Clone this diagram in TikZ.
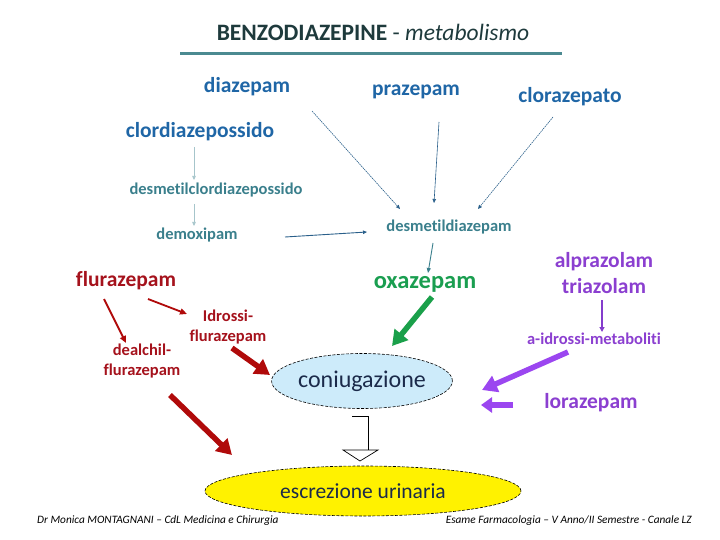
\documentclass[tikz,border=0pt]{standalone}
\usepackage{fontspec}
\setmainfont{Carlito}[Ligatures=NoCommon]
\usetikzlibrary{arrows.meta,shapes.geometric}
\definecolor{blueT}{HTML}{1F66A6}
\definecolor{tealT}{HTML}{3A7F8C}
\definecolor{thinB}{HTML}{2A5F8A}
\definecolor{redT}{HTML}{A5121C}
\definecolor{redA}{HTML}{B00A0A}
\definecolor{greenT}{HTML}{1A9E50}
\definecolor{greenA}{HTML}{1AA04A}
\definecolor{purpT}{HTML}{8B3FD0}
\definecolor{purpA}{HTML}{9B46F0}
\definecolor{conFill}{HTML}{CDEBFA}
\definecolor{conText}{HTML}{1B2A4A}
\definecolor{titleC}{HTML}{1E3A3C}
\definecolor{lineC}{HTML}{4B8A91}
\begin{document}
\begin{tikzpicture}[x=1pt,y=-1pt,
  big/.style={font=\bfseries\fontsize{21.5}{23}\selectfont, inner sep=0pt, align=center},
  mid/.style={font=\bfseries\fontsize{16.5}{20}\selectfont, inner sep=0pt, align=center},
  bluelbl/.style={big, text=blueT},
  teallbl/.style={mid, text=tealT},
  redbig/.style={big, text=redT},
  redmid/.style={mid, text=redT},
  purpbig/.style={big, text=purpT, font=\bfseries\fontsize{21.5}{26}\selectfont},
  purpmid/.style={mid, text=purpT},
  thinarrow/.style={draw=thinB, line width=0.6pt, -{Triangle[length=4pt,width=3.5pt]}},
  dotarrow/.style={thinarrow, dash pattern=on 1.5pt off 0.8pt},
  fadearrow/.style={draw=tealT!45, line width=0.6pt, -{Triangle[length=4pt,width=3.5pt]}},
  redthin/.style={draw=redA, line width=1.8pt, -{Triangle[length=7pt,width=6pt]}},
  purpthin/.style={draw=purpA!85!black, line width=1.2pt, -{Triangle[length=5pt,width=5pt]}},
  thick/.style={line width=5.5pt, -{Triangle[length=15pt,width=17pt]}},
  blob/.style={ellipse, draw=black, line width=0.6pt, dash pattern=on 3pt off 1.5pt, inner sep=0pt, text=conText},
  foot/.style={font=\itshape\fontsize{11.3}{13}\selectfont, inner sep=0pt}
]
\useasboundingbox (0,0) rectangle (720,540);
% title
\node[font=\fontsize{23.5}{26}\selectfont, text=titleC, inner sep=0pt] (title) at (373,32)
  {\textbf{BENZODIAZEPINE} - \textit{metabolismo}};
\draw[lineC, line width=3pt] (180,54) -- (562,54);
% nodes
\node[bluelbl] (diaz) at (247,87) {diazepam};
\node[bluelbl] (praz) at (416,92) {prazepam};
\node[bluelbl] (cloz) at (570,97) {clorazepato};
\node[bluelbl] (clordi) at (200,132) {clordiazepossido};
\node[teallbl] (desmcl) at (216,190) {desmetilclordiazepossido};
\node[teallbl] (demox) at (197,235) {demoxipam};
\node[teallbl] (desmd) at (449,227) {desmetildiazepam};
\node[redbig] (fluraz) at (126,281) {flurazepam};
\node[redmid] (idross) at (228,327) {Idrossi-\\flurazepam};
\node[redmid] (dealch) at (142,361) {dealchil-\\flurazepam};
\node[big, text=greenT, font=\bfseries\fontsize{24.5}{26}\selectfont] (oxaz) at (425,284) {oxazepam};
\node[purpbig] (alpr) at (604,273) {alprazolam\\triazolam};
\node[purpmid] (aidr) at (594,339) {a-idrossi-metaboliti};
\node[purpbig] (loraz) at (591,403) {lorazepam};
\node[blob, fill=conFill, minimum width=172pt, minimum height=55pt,
      font=\fontsize{24}{26}\selectfont] (con) at (362,381) {coniugazione};
\node[blob, fill=yellow, minimum width=316pt, minimum height=50pt,
      font=\fontsize{21.5}{24}\selectfont] (escr) at (363,491) {escrezione urinaria};
% footer
\node[foot, anchor=west] (foot1) at (37,521)
  {Dr Monica MONTAGNANI – CdL Medicina e Chirurgia};
\node[foot, anchor=east] (foot2) at (692,521)
  {Esame Farmacologia – V Anno/II Semestre - Canale LZ};
% thin connectors
\draw[dotarrow] ([shift={(65,24)}]diaz.center) -- ([shift={(-49,-18)}]desmd.center);
\draw[thinarrow] ([shift={(23,30)}]praz.center) -- ([shift={(-15,-24)}]desmd.center);
\draw[dotarrow] ([shift={(-17,20)}]cloz.center) -- ([shift={(29,-18)}]desmd.center);
\draw[fadearrow] ([shift={(-6,15)}]clordi.center) -- ([shift={(-22,-10)}]desmcl.center);
\draw[fadearrow] ([shift={(-22,14)}]desmcl.center) -- ([shift={(-3,-9)}]demox.center);
\draw[thinarrow, line width=0.9pt] ([shift={(88,2)}]demox.center) -- ([shift={(-82,5)}]desmd.center);
\draw[draw=tealT, line width=0.9pt, -{Triangle[length=5pt,width=4pt]}] ([shift={(-16,16)}]desmd.center) -- ([shift={(3,-11)}]oxaz.center);
\draw[redthin] ([shift={(22,18)}]fluraz.center) -- ([shift={(-41,-13)}]idross.center);
\draw[redthin] ([shift={(-22,18)}]fluraz.center) -- ([shift={(-16,-18)}]dealch.center);
\draw[purpthin] ([shift={(-2,27)}]alpr.center) -- ([shift={(8,-7)}]aidr.center);
% thick connectors
\draw[thick, greenA] ([shift={(7,13)}]oxaz.center) -- ([shift={(30,-35)}]con.center);
\draw[thick, redA] ([shift={(4,21)}]idross.center) -- ([shift={(-92,-6)}]con.center);
\draw[thick, redA] ([shift={(28,34)}]dealch.center) -- ([shift={(-131,-36)}]escr.center);
\draw[thick, purpA] ([shift={(-26,13)}]aidr.center) -- ([shift={(120,9)}]con.center);
\draw[purpA, line width=5.5pt, -{Triangle[length=11pt,width=15pt]}] ([shift={(-78,2)}]loraz.center) -- ([shift={(119,24)}]con.center);
% open arrow
\draw[black, line width=0.7pt] ([shift={(-10,35)}]con.center) -- ([shift={(6,35)}]con.center) -- ([shift={(6,69)}]con.center);
\draw[black, line width=0.7pt, fill=white, line join=miter] ([shift={(-19,69)}]con.center) -- ([shift={(16,69)}]con.center) -- ([shift={(-2,80)}]con.center) -- cycle;
\end{tikzpicture}
\end{document}
